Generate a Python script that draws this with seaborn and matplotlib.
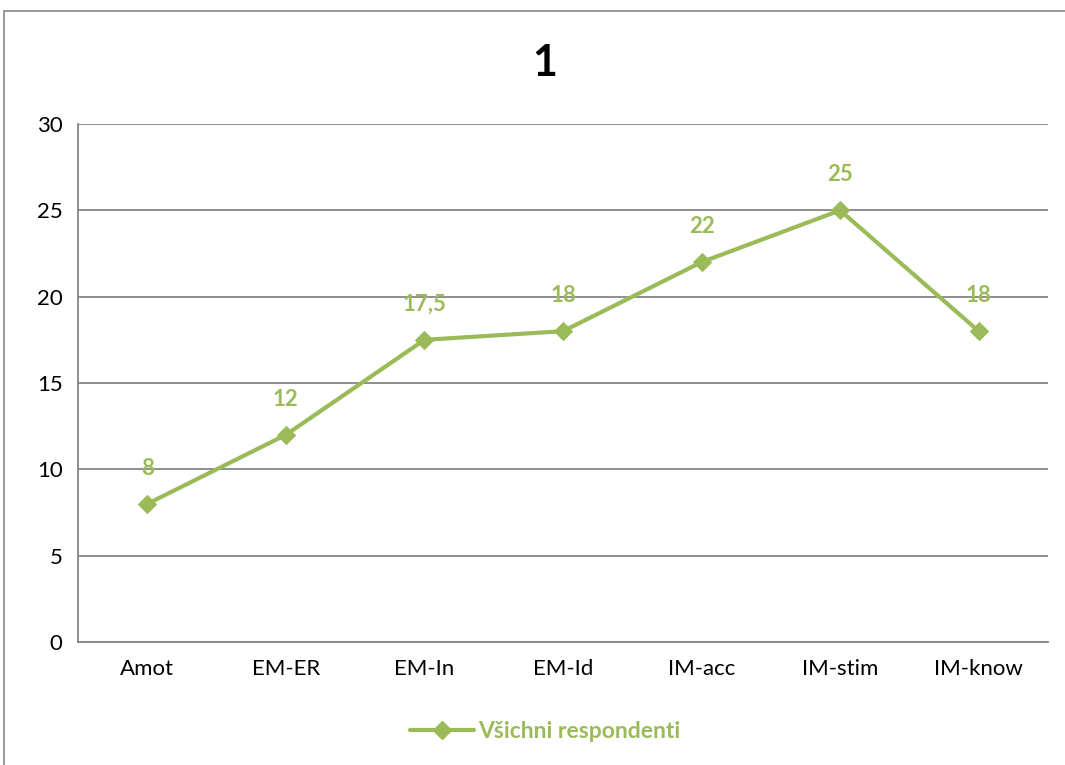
import matplotlib
matplotlib.use("Agg")
import matplotlib.pyplot as plt
import seaborn as sns
import pandas as pd
from matplotlib.patches import Rectangle
from matplotlib.lines import Line2D

categories = ["Amot", "EM-ER", "EM-In", "EM-Id", "IM-acc", "IM-stim", "IM-know"]
values = [8, 12, 17.5, 18, 22, 25, 18]
value_labels = ["8", "12", "17,5", "18", "22", "25", "18"]
series_name = "Všichni respondenti"
title = "1"
y_ticks = [0, 5, 10, 15, 20, 25, 30]

sns.set_style("white")
plt.rcParams['font.family'] = ['Lato', 'DejaVu Sans']
plt.rcParams['text.color'] = 'black'
plt.rcParams['xtick.color'] = 'black'
plt.rcParams['ytick.color'] = 'black'

green = "#9BBB59"
grid_c = "#868686"

df = pd.DataFrame({"pos": range(len(categories)), "val": values, "cat": categories})

fig = plt.figure(figsize=(10.65, 7.65), dpi=100)
ax = fig.add_axes([78/1065, 1-642/765, (1048-78)/1065, (642-124)/765])

sns.lineplot(data=df, x="pos", y="val", ax=ax, color=green, linewidth=3,
             marker="D", markersize=9, markeredgecolor=green, zorder=5)

for x, y, t in zip(df["pos"], values, value_labels):
    ax.annotate(t, (x, y), xytext=(0, 18), textcoords="offset points",
                ha="center", va="bottom", color=green, fontsize=16, fontweight="bold")

ax.set_xlim(-0.5, len(categories) - 0.5)
ax.set_ylim(0, 30)
ax.set_yticks(y_ticks)
ax.set_yticklabels([str(v) for v in y_ticks], fontsize=16, color="black")
ax.set_xticks(list(df["pos"]))
ax.set_xticklabels(categories, fontsize=16, color="black")
ax.set_xlabel("")
ax.set_ylabel("")
ax.yaxis.grid(True, color=grid_c, linewidth=1.3)
ax.set_axisbelow(True)
for s in ["top", "right"]:
    ax.spines[s].set_visible(False)
for s in ["left", "bottom"]:
    ax.spines[s].set_color(grid_c)
    ax.spines[s].set_linewidth(1.3)
ax.tick_params(axis="y", length=6, color=grid_c, width=1.3, pad=5)
ax.tick_params(axis="x", length=0, pad=12)

fig.text(545/1065, 1-63/765, title, ha="center", va="center", fontsize=31,
         fontweight="bold", color="black")

handle = Line2D([], [], color=green, linewidth=3, marker="D", markersize=9, markeredgecolor=green)
leg = fig.legend([handle], [series_name], loc="center", bbox_to_anchor=(545/1065, 1-732/765),
                 frameon=False, handlelength=2.8, handletextpad=0.15,
                 prop={"size": 16.5, "weight": "bold"})
for t in leg.get_texts():
    t.set_color(green)

fig.patches.append(Rectangle((4/1065, -0.05), 1.2, 1.05 - 11/765, transform=fig.transFigure,
                             fill=False, edgecolor=grid_c, linewidth=1.2))

fig.savefig("out.png", dpi=100)
